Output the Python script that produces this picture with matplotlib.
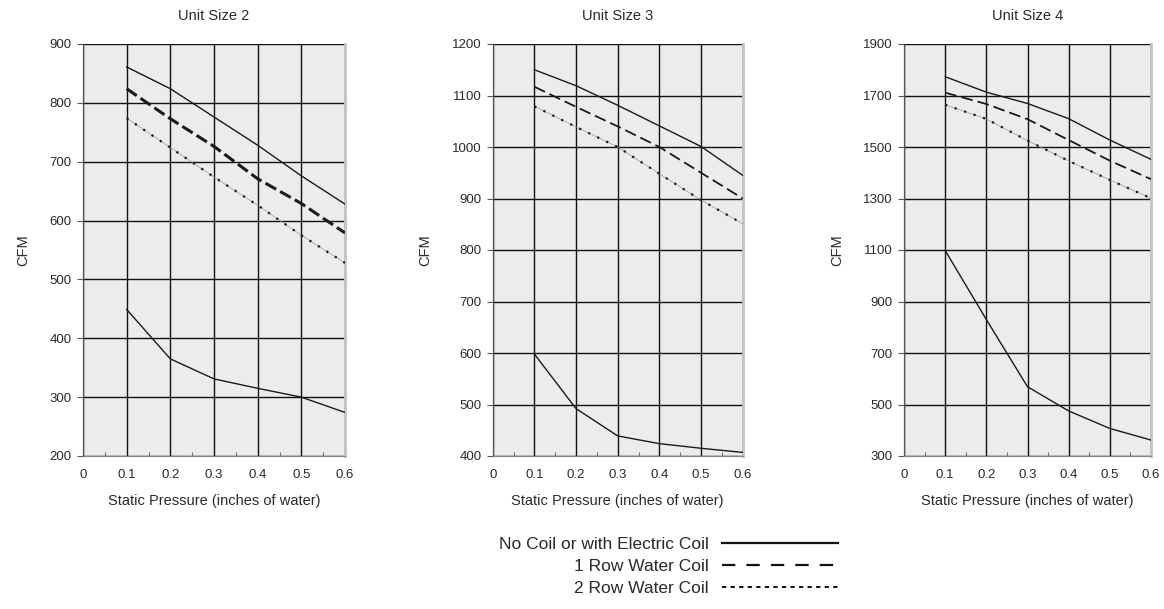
import matplotlib
matplotlib.use("Agg")
import matplotlib.pyplot as plt
import numpy as np
from matplotlib.lines import Line2D
from matplotlib.ticker import MultipleLocator

plt.rcParams['font.family'] = ['Liberation Sans', 'DejaVu Sans']

pressure = [0.1, 0.2, 0.3, 0.4, 0.5, 0.6]

titles = ["Unit Size 2", "Unit Size 3", "Unit Size 4"]

# Unit Size 2
u2_no_coil_high = [861, 824, 776, 728, 676, 628]
u2_row1 = [824, 773, 726, 671, 629, 579]
u2_row2 = [774, 724, 674, 626, 575, 528]
u2_no_coil_low = [449, 365, 331, 315, 300, 274]

# Unit Size 3
u3_no_coil_high = [1150, 1119, 1081, 1041, 1001, 945]
u3_row1 = [1117, 1078, 1040, 1000, 950, 900]
u3_row2 = [1079, 1039, 1000, 948, 897, 851]
u3_no_coil_low = [598, 492, 439, 424, 415, 407]

# Unit Size 4
u4_no_coil_high = [1773, 1713, 1669, 1610, 1527, 1452]
u4_row1 = [1711, 1667, 1608, 1527, 1447, 1375]
u4_row2 = [1664, 1609, 1525, 1446, 1372, 1301]
u4_no_coil_low = [1098, 830, 569, 475, 407, 362]

ylims = [(200, 900), (400, 1200), (300, 1900)]
ysteps = [100, 100, 200]

series = [
    (u2_no_coil_high, u2_row1, u2_row2, u2_no_coil_low),
    (u3_no_coil_high, u3_row1, u3_row2, u3_no_coil_low),
    (u4_no_coil_high, u4_row1, u4_row2, u4_no_coil_low),
]

legend_labels = ["No Coil or with Electric Coil", "1 Row Water Coil", "2 Row Water Coil"]

fig = plt.figure(figsize=(11.64, 6.09), dpi=100)
H = 609.0
W = 1164.0
rects = [(83, 262), (492.7, 250), (904, 247)]
top_px, bot_px = 44, 456
txt = '#2a2a2a'

for i, ((lx, wpx), title) in enumerate(zip(rects, titles)):
    ax = fig.add_axes([lx / W, 1 - bot_px / H, wpx / W, (bot_px - top_px) / H])
    ax.set_facecolor('#ececec')
    hi, r1, r2, lo = series[i]
    dash_style = (0, (4, 1.5)) if i == 0 else (0, (6.5, 2.8))
    dash_lw = 2.2 if i == 0 else 1.3
    ax.plot(pressure, hi, color='#1a1a1a', lw=1.0, zorder=4)
    ax.plot(pressure, lo, color='#1a1a1a', lw=1.0, zorder=4)
    ax.plot(pressure, r1, color='#1a1a1a', lw=dash_lw, ls=dash_style, zorder=4)
    ax.plot(pressure, r2, color='#999999', lw=0.5, zorder=3)
    ax.plot(pressure, r2, color='#1a1a1a', lw=1.6, ls=(0, (1, 3.5)), zorder=4)

    ax.set_xlim(0, 0.6)
    ax.set_ylim(*ylims[i])
    ax.set_xticks([0, 0.1, 0.2, 0.3, 0.4, 0.5, 0.6])
    ax.set_xticklabels(['0', '0.1', '0.2', '0.3', '0.4', '0.5', '0.6'])
    ax.xaxis.set_minor_locator(MultipleLocator(0.05))
    ax.set_yticks(np.arange(ylims[i][0], ylims[i][1] + 1, ysteps[i]))
    ax.grid(True, which='major', color='#111111', lw=1.0, zorder=1)
    ax.set_axisbelow(True)
    ax.tick_params(axis='x', which='major', length=0, pad=9, labelsize=9.5, labelcolor=txt)
    ax.tick_params(axis='x', which='minor', direction='in', length=3, width=0.8, color='#777777')
    ax.tick_params(axis='y', which='major', direction='out', length=4, width=0.8, color='#555555',
                   pad=4, labelsize=9.5, labelcolor=txt)
    ax.spines['top'].set_visible(False)
    ax.spines['right'].set_color('#c4c4c4')
    ax.spines['right'].set_linewidth(2)
    ax.spines['left'].set_color('#555555')
    ax.spines['left'].set_linewidth(0.9)
    ax.spines['bottom'].set_color('#888888')
    ax.spines['bottom'].set_linewidth(0.9)

    ax.set_title(title, fontsize=10.5, color=txt, pad=17.5)
    ax.set_xlabel('Static Pressure (inches of water)', fontsize=10.5, color=txt, labelpad=10)
    ax.set_ylabel('CFM', fontsize=10.5, color=txt, labelpad=14)

handles = [
    Line2D([], [], color='#111111', lw=1.6),
    Line2D([], [], color='#111111', lw=1.6, ls=(0, (6, 5))),
    Line2D([], [], color='#111111', lw=1.4, ls=(0, (2.2, 2.2))),
]
fig.legend(handles, legend_labels, markerfirst=False, frameon=False,
           loc='upper right', bbox_to_anchor=(838 / W, 1 - 537 / H),
           handlelength=6.7, handletextpad=0.75, labelspacing=0.38,
           prop={'family': ['Liberation Sans Narrow', 'Liberation Sans'], 'size': 12.5},
           labelcolor=txt, borderpad=0, borderaxespad=0)

fig.savefig('out.png', dpi=100)
